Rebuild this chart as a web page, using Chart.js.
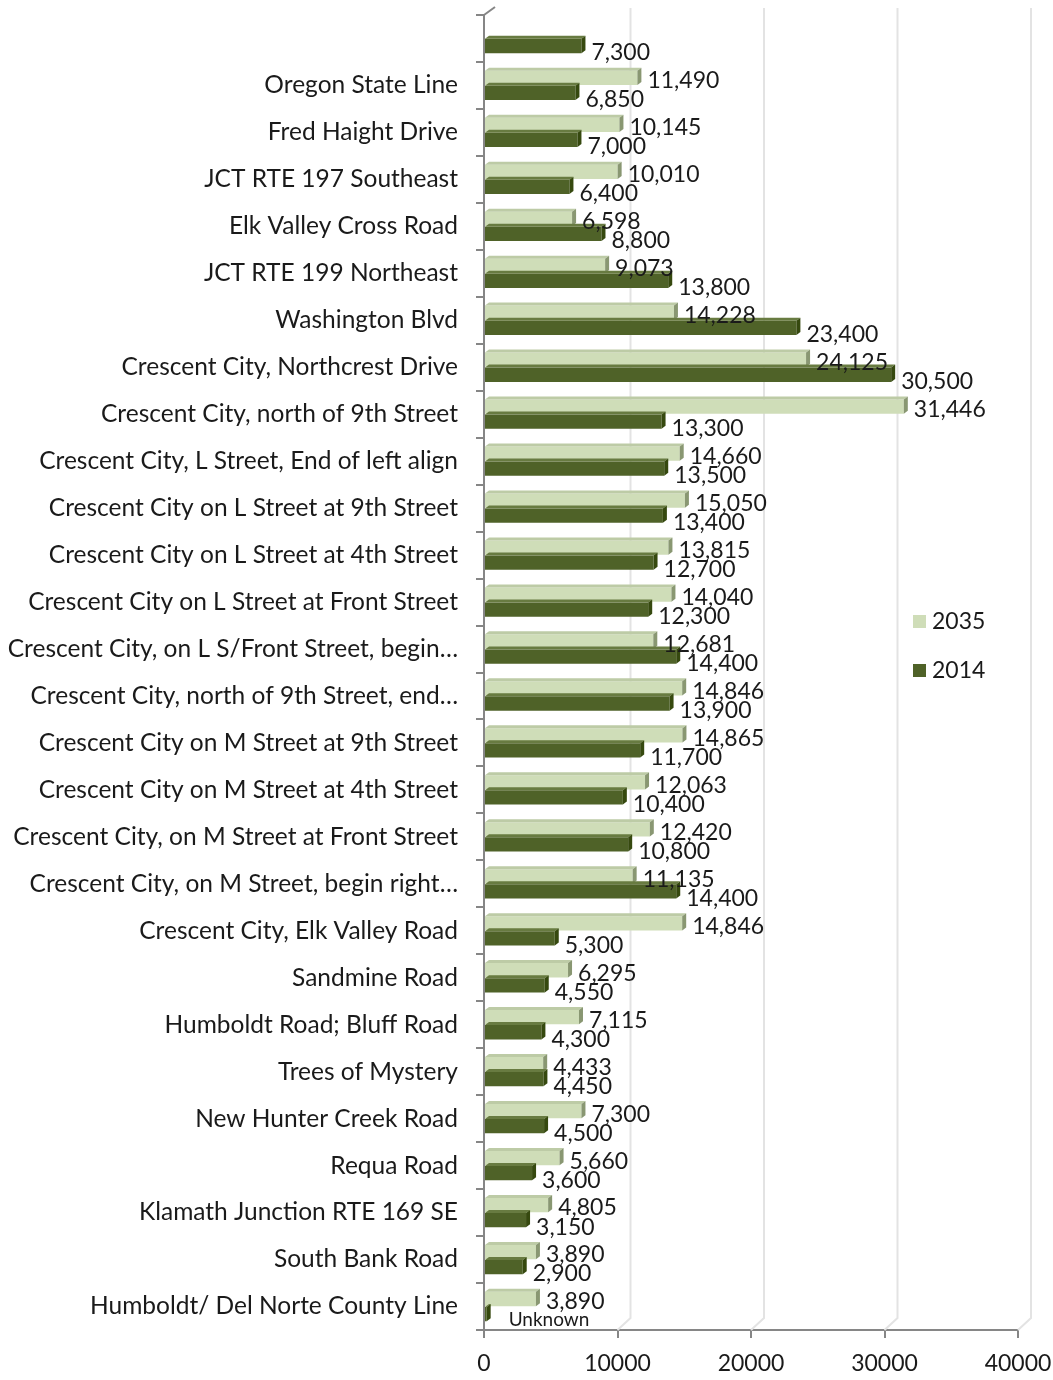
<!DOCTYPE html>
<html>
<head>
<meta charset="utf-8">
<script src="https://cdn.jsdelivr.net/npm/chart.js@4"></script>
<style>
  html, body { margin: 0; padding: 0; background: #fff; }
  canvas { display: block; }
</style>
</head>
<body>
<canvas id="myChart" width="1053" height="1380"></canvas>
<script>
// data, top row first
const categories = [
  '',
  'Oregon State Line',
  'Fred Haight Drive',
  'JCT RTE 197 Southeast',
  'Elk Valley Cross Road',
  'JCT RTE 199 Northeast',
  'Washington Blvd',
  'Crescent City, Northcrest Drive',
  'Crescent City, north of 9th Street',
  'Crescent City, L Street, End of left align',
  'Crescent City on L Street at 9th Street',
  'Crescent City on L Street at 4th Street',
  'Crescent City on L Street at Front Street',
  'Crescent City, on L S/Front Street, begin…',
  'Crescent City, north of 9th Street, end…',
  'Crescent City on M Street at 9th Street',
  'Crescent City on M Street at 4th Street',
  'Crescent City, on M Street at Front Street',
  'Crescent City, on M Street, begin right…',
  'Crescent City, Elk Valley Road',
  'Sandmine Road',
  'Humboldt Road; Bluff Road',
  'Trees of Mystery',
  'New Hunter Creek Road',
  'Requa Road',
  'Klamath Junction RTE 169 SE',
  'South Bank Road',
  'Humboldt/ Del Norte County Line'
];

const values2035 = [null, 11490, 10145, 10010, 6598, 9073, 14228, 24125, 31446, 14660, 15050, 13815, 14040, 12681,
  14846, 14865, 12063, 12420, 11135, 14846, 6295, 7115, 4433, 7300, 5660, 4805, 3890, 3890];

const values2014 = [7300, 6850, 7000, 6400, 8800, 13800, 23400, 30500, 13300, 13500, 13400, 12700, 12300, 14400,
  13900, 11700, 10400, 10800, 14400, 5300, 4550, 4300, 4450, 4500, 3600, 3150, 2900, 200];

// last 2014 value is not known, the picture shows a stub with a text label
const textOverride2014 = { 27: 'Unknown' };

const xTicks = [0, 10000, 20000, 30000, 40000];

const FONT = 'Lato, "Liberation Sans", sans-serif';
const LIGHT = '#cfddb8';
const DARK = '#4f6228';

function fmt(v) {
  return v.toLocaleString('en-US');
}

function shade(hex, amt) {
  let n = parseInt(hex.slice(1), 16);
  let r = Math.max(0, Math.min(255, (n >> 16) + amt));
  let g = Math.max(0, Math.min(255, ((n >> 8) & 255) + amt));
  let b = Math.max(0, Math.min(255, (n & 255) + amt));
  return 'rgb(' + r + ',' + g + ',' + b + ')';
}

/**
 * 3D-ish back wall / floor lines behind the bars
 */
const wallPlugin = {
  id: 'wall',
  beforeDatasetsDraw(chart) {
    const { ctx, chartArea, scales } = chart;
    const dx = 13, dy = 12;
    ctx.save();
    ctx.strokeStyle = '#e3e3e3';
    ctx.lineWidth = 2;
    xTicks.forEach((t, i) => {
      if (i === 0) return;
      let x = scales.x.getPixelForValue(t);
      ctx.beginPath();
      ctx.moveTo(x + dx, chartArea.top - 7);
      ctx.lineTo(x + dx, chartArea.bottom - dy);
      ctx.lineTo(x, chartArea.bottom);
      ctx.stroke();
    });
    // top corner of the side wall
    ctx.strokeStyle = '#868686';
    ctx.lineWidth = 2;
    ctx.beginPath();
    ctx.moveTo(chartArea.left, chartArea.top);
    ctx.lineTo(chartArea.left + 11, chartArea.top - 8);
    ctx.stroke();
    ctx.restore();
  }
};

/**
 * bar depth faces, value labels and legend
 */
const decoPlugin = {
  id: 'deco',
  afterDatasetsDraw(chart) {
    const { ctx } = chart;
    const dx = 4, dy = 3;
    ctx.save();
    chart.data.datasets.forEach((ds, di) => {
      const meta = chart.getDatasetMeta(di);
      meta.data.forEach((bar, i) => {
        if (ds.data[i] == null) return;
        let top = bar.y - bar.height / 2;
        let bottom = bar.y + bar.height / 2;
        let left = bar.base;
        let right = bar.x;
        // top face
        ctx.fillStyle = shade(ds.backgroundColor, di === 0 ? -18 : 25);
        ctx.beginPath();
        ctx.moveTo(left, top);
        ctx.lineTo(left + dx, top - dy);
        ctx.lineTo(right + dx, top - dy);
        ctx.lineTo(right, top);
        ctx.closePath();
        ctx.fill();
        // side face
        ctx.fillStyle = shade(ds.backgroundColor, di === 0 ? -70 : -25);
        ctx.beginPath();
        ctx.moveTo(right, top);
        ctx.lineTo(right + dx, top - dy);
        ctx.lineTo(right + dx, bottom - dy);
        ctx.lineTo(right, bottom);
        ctx.closePath();
        ctx.fill();
      });
    });

    ctx.textBaseline = 'middle';
    ctx.textAlign = 'left';
    ctx.fillStyle = '#1a1a1a';
    chart.data.datasets.forEach((ds, di) => {
      const meta = chart.getDatasetMeta(di);
      meta.data.forEach((bar, i) => {
        let v = ds.data[i];
        if (v == null) return;
        let txt = fmt(v);
        ctx.font = '23px ' + FONT;
        if (di === 1 && textOverride2014[i]) {
          txt = textOverride2014[i];
          ctx.font = '19px ' + FONT;
          ctx.fillText(txt, bar.x + 22, bar.y + 6);
          return;
        }
        ctx.fillText(txt, bar.x + 10, bar.y + (di === 0 ? 3 : 7));
      });
    });

    // legend
    ctx.font = '23px ' + FONT;
    let ly = [622, 671];
    chart.data.datasets.forEach((ds, di) => {
      ctx.fillStyle = ds.backgroundColor;
      ctx.fillRect(913, ly[di] - 7, 13, 13);
      ctx.fillStyle = '#1a1a1a';
      ctx.fillText(ds.label, 932, ly[di]);
    });
    ctx.restore();
  }
};

var ctx = document.getElementById('myChart');
if (ctx) {
  var roadChart = new Chart(ctx, {
    type: 'bar',
    data: {
      labels: categories,
      datasets: [
        {
          label: '2035',
          data: values2035,
          backgroundColor: LIGHT,
          categoryPercentage: 0.64,
          barPercentage: 0.95
        },
        {
          label: '2014',
          data: values2014,
          backgroundColor: DARK,
          categoryPercentage: 0.64,
          barPercentage: 0.95
        }
      ]
    },
    options: {
      indexAxis: 'y',
      responsive: false,
      animation: false,
      layout: { padding: { top: 15, right: 35, left: 0, bottom: 0 } },
      plugins: {
        legend: { display: false },
        tooltip: { enabled: false }
      },
      scales: {
        x: {
          min: 0,
          max: 40000,
          afterBuildTicks(scale) {
            scale.ticks = xTicks.map(v => ({ value: v }));
          },
          afterFit(scale) {
            scale.height = 50;
            scale.paddingLeft = 0;
            scale.paddingRight = 0;
          },
          grid: { drawOnChartArea: false, drawTicks: true, tickLength: 8, color: '#868686', lineWidth: 2 },
          border: { display: true, color: '#868686', width: 2 },
          ticks: {
            color: '#1a1a1a',
            padding: 12,
            maxRotation: 0,
            font: { family: FONT, size: 23 },
            callback: v => String(v)
          }
        },
        y: {
          afterFit(scale) {
            scale.width = 484;
            scale.paddingTop = 0;
            scale.paddingBottom = 0;
          },
          grid: { drawOnChartArea: false, drawTicks: true, tickLength: 8, color: '#868686', lineWidth: 2, offset: true },
          border: { display: true, color: '#868686', width: 2 },
          ticks: {
            color: '#1a1a1a',
            padding: 18,
            autoSkip: false,
            font: { family: FONT, size: 24.5 }
          }
        }
      }
    },
    plugins: [wallPlugin, decoPlugin]
  });
}
</script>
</body>
</html>
